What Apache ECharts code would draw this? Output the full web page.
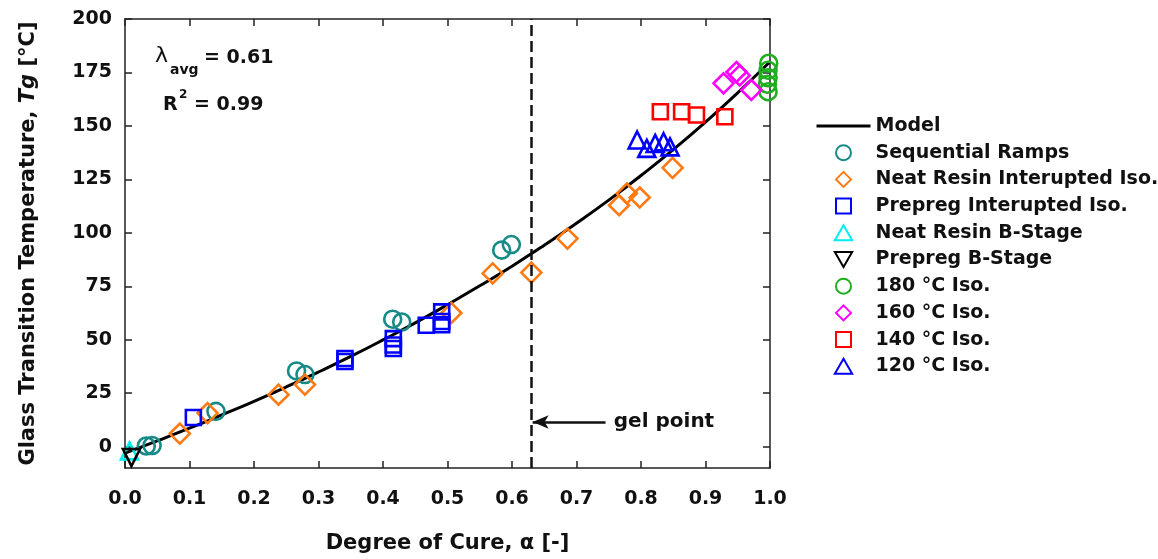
<!DOCTYPE html>
<html>
<head>
<meta charset="utf-8">
<script src="https://cdn.jsdelivr.net/npm/echarts@6/dist/echarts.min.js"></script>
<style>
  html, body { margin: 0; padding: 0; background: #fff; }
  #main { width: 1158px; height: 559px; }
</style>
</head>
<body>
<div id="main"></div>
<script>
var FONT = 'DejaVu Sans';

// model curve
var modelAlpha = [0, 0.05, 0.1, 0.15, 0.2, 0.25, 0.3, 0.35, 0.4, 0.45, 0.5, 0.55, 0.6, 0.65, 0.7, 0.75, 0.8, 0.85, 0.9, 0.95, 1.0];
var modelTg = [-3, 2.7, 8.6, 14.8, 21.2, 27.9, 34.9, 42.2, 49.9, 57.9, 66.4, 75.2, 84.4, 94.2, 104.5, 115.3, 126.8, 138.9, 151.8, 165.5, 180];

// measured points [alpha, Tg]
var seqRamps = [[0.033, 0.3], [0.042, 0.5], [0.141, 16.5], [0.266, 35.4], [0.279, 33.7], [0.415, 59.6], [0.429, 58.3], [0.584, 91.9], [0.599, 94.5]];
var neatIso = [[0.085, 6.1], [0.128, 15.7], [0.238, 24.3], [0.279, 29.0], [0.506, 62.5], [0.570, 81.0], [0.630, 81.4], [0.686, 97.3], [0.766, 112.9], [0.778, 118.4], [0.798, 116.5], [0.849, 130.4]];
var prepregIso = [[0.106, 13.6], [0.341, 39.8], [0.341, 41.2], [0.416, 50.5], [0.416, 47.5], [0.416, 45.9], [0.467, 56.8], [0.491, 63.0], [0.491, 58.5], [0.491, 57.0]];
var neatBStage = [[0.007, -2.0]];
var prepregBStage = [[0.010, -5.1]];
var iso180 = [[0.998, 179.3], [0.997, 176.0], [0.997, 172.5], [0.996, 169.5], [0.997, 166.0]];
var iso160 = [[0.928, 169.9], [0.948, 175.2], [0.953, 173.6], [0.971, 166.8]];
var iso140 = [[0.830, 156.6], [0.863, 156.6], [0.886, 155.1], [0.930, 154.3]];
var iso120 = [[0.794, 143.4], [0.809, 139.5], [0.822, 141.8], [0.835, 142.6], [0.845, 140.2]];

var yTicks = [0, 25, 50, 75, 100, 125, 150, 175, 200];
var gelPoint = 0.63;
var gelArrowY = 11.5;

var modelData = modelAlpha.map(function (a, i) { return [a, modelTg[i]]; });

// path symbols so the legend keeps their aspect
var CIRCLE = 'circle';
var DIAMOND = 'path://M1,0L2,1L1,2L0,1Z';
var SQUARE = 'path://M0,0L1,0L1,1L0,1Z';
var TRI_UP = 'path://M1,0L2,1.732L0,1.732Z';
var TRI_DOWN = 'path://M0,0L2,0L1,1.732Z';

var myChart = echarts.init(document.getElementById('main'));

function scatter(name, data, symbol, size, color) {
    return {
        name: name,
        type: 'scatter',
        data: data,
        symbol: symbol,
        symbolSize: size,
        itemStyle: { color: 'rgba(255,255,255,0)', borderColor: color, borderWidth: 2.6, opacity: 1 },
        z: 3
    };
}

var axisLine = { show: true, onZero: false, lineStyle: { color: '#222', width: 1.5 } };
var tickStyle = { show: true, inside: true, length: 7, lineStyle: { color: '#222', width: 1.5 } };

var option = {
    animation: false,
    backgroundColor: '#fff',
    textStyle: { fontFamily: FONT },
    grid: { left: 125, right: 388, top: 19, bottom: 91 },
    xAxis: [{
        type: 'value',
        min: 0,
        max: 1,
        interval: 0.1,
        position: 'bottom',
        name: 'Degree of Cure, \u03b1 [-]',
        nameLocation: 'middle',
        nameGap: 65,
        nameTextStyle: { fontFamily: FONT, fontWeight: 'bold', fontSize: 21, color: '#111' },
        axisLine: axisLine,
        axisTick: tickStyle,
        splitLine: { show: false },
        axisLabel: {
            fontFamily: FONT, fontWeight: 'bold', fontSize: 19, color: '#111', margin: 22,
            formatter: function (v) { return v.toFixed(1); }
        }
    }, {
        type: 'value',
        min: 0,
        max: 1,
        interval: 0.1,
        position: 'top',
        axisLine: axisLine,
        axisTick: tickStyle,
        splitLine: { show: false },
        axisLabel: { show: false }
    }],
    yAxis: [{
        type: 'value',
        min: -10,
        max: 200,
        position: 'left',
        name: '{n|Glass Transition Temperature, }{i|Tg}{n| [\u00b0C]}',
        nameLocation: 'middle',
        nameGap: 86,
        nameTextStyle: {
            rich: {
                n: { fontFamily: FONT, fontWeight: 'bold', fontSize: 21, color: '#111' },
                i: { fontFamily: FONT, fontWeight: 'bold', fontStyle: 'italic', fontSize: 21, color: '#111' }
            }
        },
        axisLine: axisLine,
        axisTick: Object.assign({ customValues: yTicks }, tickStyle),
        splitLine: { show: false },
        axisLabel: {
            customValues: yTicks,
            fontFamily: FONT, fontWeight: 'bold', fontSize: 19, color: '#111', margin: 13
        }
    }, {
        type: 'value',
        min: -10,
        max: 200,
        position: 'right',
        axisLine: axisLine,
        axisTick: Object.assign({ customValues: yTicks }, tickStyle),
        splitLine: { show: false },
        axisLabel: { show: false, customValues: yTicks }
    }],
    legend: {
        orient: 'vertical',
        left: 810,
        top: 110,
        itemWidth: 54,
        itemHeight: 15,
        itemGap: 4.7,
        symbolKeepAspect: true,
        textStyle: { fontFamily: FONT, fontWeight: 'bold', fontSize: 19, color: '#111', lineHeight: 22 },
        data: [
            { name: 'Model', itemStyle: { color: 'rgba(0,0,0,0)', borderWidth: 0, opacity: 0 },
              lineStyle: { color: '#000', width: 3 } },
            'Sequential Ramps', 'Neat Resin Interupted Iso.', 'Prepreg Interupted Iso.',
            'Neat Resin B-Stage', 'Prepreg B-Stage', '180 \u00b0C Iso.', '160 \u00b0C Iso.', '140 \u00b0C Iso.', '120 \u00b0C Iso.'
        ]
    },
    graphic: [
        { type: 'text', left: 155, top: 45, style: { text: '\u03bb', font: '22px "DejaVu Sans"', fill: '#111' } },
        { type: 'text', left: 170, top: 63, style: { text: 'avg', font: 'bold 14px "DejaVu Sans"', fill: '#111' } },
        { type: 'text', left: 204, top: 49, style: { text: '= 0.61', font: 'bold 19px "DejaVu Sans"', fill: '#111' } },
        { type: 'text', left: 163, top: 96, style: { text: 'R', font: 'bold 19px "DejaVu Sans"', fill: '#111' } },
        { type: 'text', left: 179, top: 89, style: { text: '2', font: 'bold 12px "DejaVu Sans"', fill: '#111' } },
        { type: 'text', left: 194, top: 96, style: { text: '= 0.99', font: 'bold 19px "DejaVu Sans"', fill: '#111' } }
    ],
    series: [{
        name: 'Model',
        type: 'line',
        data: modelData,
        smooth: true,
        symbol: 'none',
        lineStyle: { color: '#000', width: 3 },
        itemStyle: { color: '#000' },
        z: 2,
        markLine: {
            silent: true,
            symbol: ['none', 'none'],
            label: { show: false },
            lineStyle: { color: '#111', width: 2.5, type: [11, 5] },
            data: [
                { xAxis: gelPoint },
                [
                    { coord: [0.745, gelArrowY], symbol: 'none', lineStyle: { type: 'solid', width: 2.5, color: '#111' } },
                    { coord: [gelPoint + 0.002, gelArrowY], symbol: 'arrow', symbolSize: [10, 16] }
                ]
            ]
        },
        markPoint: {
            silent: true,
            symbol: 'rect',
            symbolSize: 1,
            itemStyle: { color: 'rgba(0,0,0,0)' },
            label: { show: true, position: 'right', distance: 0, formatter: 'gel point',
                fontFamily: FONT, fontWeight: 'bold', fontSize: 20, color: '#111' },
            data: [{ coord: [0.757, gelArrowY] }]
        }
    },
    scatter('Sequential Ramps', seqRamps, CIRCLE, 17, '#168a86'),
    scatter('Neat Resin Interupted Iso.', neatIso, DIAMOND, 20, '#ff7a12'),
    scatter('Prepreg Interupted Iso.', prepregIso, SQUARE, 15, '#0000ff'),
    scatter('Neat Resin B-Stage', neatBStage, TRI_UP, 17, '#00eeee'),
    scatter('Prepreg B-Stage', prepregBStage, TRI_DOWN, 17, '#000'),
    scatter('180 \u00b0C Iso.', iso180, CIRCLE, 17, '#1fae1f'),
    scatter('160 \u00b0C Iso.', iso160, DIAMOND, 20, '#ff00ff'),
    scatter('140 \u00b0C Iso.', iso140, SQUARE, 15, '#ff0000'),
    scatter('120 \u00b0C Iso.', iso120, TRI_UP, 17, '#0000ff')
    ]
};

myChart.setOption(option);

window.addEventListener('resize', function () {
    myChart.resize();
});
</script>
</body>
</html>
